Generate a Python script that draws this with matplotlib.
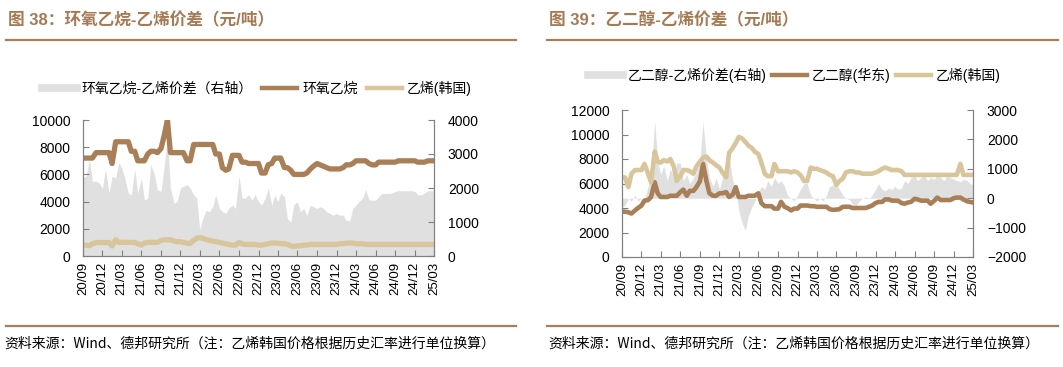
import matplotlib
matplotlib.use('Agg')
import matplotlib.pyplot as plt
from matplotlib.lines import Line2D
import matplotlib.dates as mdates
import pandas as pd

plt.rcParams['font.family'] = ['Liberation Sans', 'Noto Sans CJK SC', 'DejaVu Sans']

# semi-monthly observation dates, 2020-09 .. 2025-03
dates = pd.date_range('2020-09-01', '2025-03-01', freq='SMS')
tick_dates = pd.date_range('2020-09-01', '2025-03-01', freq='3MS')

# ---- 图38 data ----
eo_price = [
    7200, 7200, 7200, 7200, 7600, 7600, 7600, 7600, 7600, 6800,
    8400, 8400, 8400, 8400, 8400, 7700, 7700, 7000, 7000, 7000,
    7500, 7700, 7700, 7600, 7900, 8800, 10000, 7600, 7600, 7600,
    7600, 7600, 7000, 7000, 8200, 8200, 8200, 8200, 8200, 8200,
    8200, 7500, 7500, 6500, 6300, 6400, 7400, 7400, 7400, 6900,
    6900, 6800, 6800, 6800, 6800, 6100, 6100, 6700, 6800, 7200,
    7200, 7200, 6500, 6500, 6300, 6000, 6000, 6000, 6000, 6100,
    6400, 6600, 6800, 6700, 6600, 6500, 6400, 6400, 6400, 6400,
    6500, 6700, 6700, 6800, 7000, 7000, 7000, 7000, 6800, 6700,
    6700, 6900, 6900, 6900, 6900, 6900, 6900, 7000, 7000, 7000,
    7000, 7000, 7000, 6900, 6900, 6900, 7000, 7000, 7000,
]
eth_korea_a = [
    820, 800, 760, 900, 990, 990, 990, 990, 990, 740,
    1190, 1000, 1000, 1000, 1000, 1000, 1000, 900, 800, 950,
    1000, 1000, 1000, 1000, 1150, 1190, 1190, 1190, 1100, 1050,
    1050, 1000, 940, 920, 1150, 1300, 1350, 1300, 1200, 1150,
    1100, 1050, 1000, 950, 900, 850, 800, 800, 990, 900,
    850, 850, 850, 850, 800, 800, 850, 900, 950, 950,
    950, 900, 900, 850, 750, 700, 750, 750, 800, 800,
    850, 850, 850, 850, 850, 850, 850, 850, 850, 900,
    900, 950, 950, 950, 900, 900, 900, 850, 850, 850,
    850, 850, 850, 850, 850, 850, 850, 850, 850, 850,
    850, 850, 850, 850, 850, 850, 850, 850, 850,
]
eo_spread = [
    2300, 2350, 2850, 2200, 2200, 2150, 2000, 2550, 1850, 2350,
    2300, 2750, 2600, 2300, 1850, 1800, 2550, 1850, 2300, 1650,
    1700, 2700, 2400, 1950, 1900, 2600, 3450, 2000, 1550, 1600,
    2000, 2050, 2100, 2000, 1800, 1700, 780, 1100, 1350, 1300,
    1450, 1800, 1400, 1300, 1250, 1400, 1500, 1400, 2350, 1700,
    1700, 1800, 1650, 1800, 1600, 1500, 1700, 2000, 1500, 1800,
    1600, 1850, 1750, 1100, 1000, 1500, 1600, 1300, 1400, 1200,
    1500, 1450, 1400, 1450, 1400, 1300, 1250, 1200, 1250, 1200,
    1200, 1050, 1040, 1400, 1500, 1600, 1700, 1950, 1650, 1640,
    1640, 1750, 1840, 1840, 1840, 1850, 1900, 1920, 1920, 1920,
    1920, 1920, 1900, 1800, 1800, 1850, 1920, 1920, 1920,
]

# ---- 图39 data ----
meg_east = [
    3700, 3700, 3650, 3550, 3800, 4000, 4200, 4600, 4650, 4900,
    6100, 5200, 4900, 4900, 4900, 5000, 5000, 5000, 5300, 5500,
    5000, 5400, 5400, 5700, 6200, 7600, 6200, 5200, 5000, 5000,
    5200, 5200, 5300, 4900, 5100, 5700, 4900, 4900, 4900, 5000,
    5000, 5000, 5200, 4400, 4150, 4150, 4150, 3950, 3950, 4500,
    4100, 4000, 3800, 3950, 3950, 4200, 4200, 4200, 4150, 4150,
    4100, 4100, 4100, 4100, 3900, 3850, 3870, 3900, 4100, 4100,
    4100, 4000, 4000, 4000, 4000, 4000, 4100, 4200, 4400, 4500,
    4500, 4700, 4700, 4600, 4600, 4600, 4400, 4350, 4450, 4500,
    4750, 4700, 4600, 4600, 4600, 4350, 4600, 4850, 4650, 4650,
    4650, 4650, 4800, 4850, 4850, 4700, 4550, 4500, 4450,
]
eth_korea_b = [
    6500, 6500, 5700, 6800, 7100, 7100, 7100, 7600, 6800, 6100,
    8600, 7800, 7700, 7900, 7800, 8000, 7400, 6200, 6600, 7100,
    7100, 7000, 6800, 7400, 7800, 8100, 8200, 7900, 7700, 7500,
    7300, 6900, 6500, 8500, 8900, 9300, 9800, 9700, 9400, 9100,
    8900, 8600, 8400, 7700, 6800, 6600, 6600, 7600, 7000, 7000,
    7000, 7000, 6900, 7000, 6900, 6700, 6200, 6200, 7300, 7200,
    7200, 7100, 7000, 6900, 6700, 6600, 5900, 6200, 6400, 6900,
    7000, 7000, 6900, 6900, 6800, 6800, 6800, 6800, 6900, 7000,
    7200, 7300, 7200, 7100, 7100, 7100, 7000, 6700, 6700, 6700,
    6700, 6700, 6700, 6700, 6700, 6700, 6700, 6700, 6700, 6700,
    6700, 6700, 6700, 6700, 7600, 6700, 6700, 6700, 6700,
]
meg_spread = [
    -300, -250, 0, -100, 100, -100, 0, -100, 400, 900,
    2600, 1300, 800, 1100, 600, 1000, 700, 1200, 1200, 600,
    800, 500, 700, 900, 1300, 2600, 1300, 700, 400, 700,
    300, 700, 1200, 1400, 600, 300, -400, -800, -1100, -600,
    -300, -100, 200, 400, 300, 600, 400, 700, 500, 600,
    400, 100, 0, -100, 100, 300, 500, 500, 100, 0,
    -100, 0, -100, 100, 400, 450, 450, 300, 100, 0,
    -50, -200, -250, -100, 0, 50, 0, 100, 300, 500,
    300, 250, 350, 300, 400, 300, 350, 600, 500, 700,
    750, 600, 700, 800, 600, 700, 650, 800, 700, 600,
    750, 700, 650, 600, 550, 650, 600, 500, 450,
]

BROWN = '#A97F58'
TAN = '#D9C59B'
GRAY = '#E0E0E0'
TITLE_C = '#A57A55'
SPINE_C = '#808080'

W, H = 1063, 367
fig = plt.figure(figsize=(W / 100, H / 100), dpi=100)


def fx(px):
    return px / W


def fy(py):
    return 1 - py / H


def draw_panel(rect, title, legend_labels, legend_xy, spread, line1, line2,
               lylim, lyticks, rylim, ryticks, lw, colsp):
    ax = fig.add_axes(rect)
    ax2 = ax.twinx()
    ax.set_zorder(ax2.get_zorder() + 1)
    ax.patch.set_visible(False)

    ax2.fill_between(dates, 0, spread, color=GRAY, lw=0)
    ax.plot(dates, line1, color=BROWN, lw=lw)
    ax.plot(dates, line2, color=TAN, lw=lw)

    ax.set_xlim(dates[0], dates[-1])
    ax.set_ylim(*lylim)
    ax.set_yticks(lyticks)
    ax2.set_ylim(*rylim)
    ax2.set_yticks(ryticks)
    ax.set_xticks(tick_dates)
    ax.xaxis.set_major_formatter(mdates.DateFormatter('%y/%m'))

    for a in (ax, ax2):
        for s in a.spines.values():
            s.set_color(SPINE_C)
            s.set_linewidth(0.8)
        a.spines['top'].set_visible(False)
        a.tick_params(direction='in', length=4, color=SPINE_C, labelsize=10)
    ax.tick_params(axis='y', pad=9)
    ax2.tick_params(axis='y', pad=10)
    ax.tick_params(axis='x', labelsize=9.5, pad=4, labelrotation=90)

    handles = [Line2D([], [], color=GRAY, lw=5.5),
               Line2D([], [], color=BROWN, lw=3.2),
               Line2D([], [], color=TAN, lw=3.2)]
    fig.legend(handles, legend_labels, loc='center left',
               bbox_to_anchor=legend_xy, ncol=3, frameon=False,
               fontsize=10, handlelength=2.5, handletextpad=0.35,
               columnspacing=colsp, borderpad=0, borderaxespad=0)

    fig.text(title[1], fy(20), title[0], fontsize=12, fontweight='bold',
             color=TITLE_C, va='center', ha='left',
             family=['Liberation Sans', 'Noto Sans CJK SC'])
    return ax


draw_panel([fx(83), fy(256), fx(351), (256 - 120) / H],
           ('图 38：环氧乙烷-乙烯价差（元/吨）', fx(8)),
           ['环氧乙烷-乙烯价差（右轴）', '环氧乙烷', '乙烯(韩国)'],
           (fx(42), fy(88)), eo_spread, eo_price, eth_korea_a,
           (0, 10000), range(0, 10001, 2000), (0, 4000), range(0, 4001, 1000),
           3.8, 0.7)

draw_panel([fx(622), fy(257), fx(351), (257 - 110) / H],
           ('图 39：乙二醇-乙烯价差（元/吨）', fx(549)),
           ['乙二醇-乙烯价差(右轴)', '乙二醇(华东)', '乙烯(韩国)'],
           (fx(588), fy(75)), meg_spread, meg_east, eth_korea_b,
           (0, 12000), range(0, 12001, 2000), (-2000, 3000), range(-2000, 3001, 1000),
           3.3, 0.4)

# header / footer rules
for x_a, x_b in ((6, 516), (547, 1058)):
    for y in (40, 326):
        fig.add_artist(Line2D([fx(x_a), fx(x_b)], [fy(y), fy(y)],
                              color=BROWN, lw=1.6, transform=fig.transFigure))

source = '资料来源：Wind、德邦研究所（注：乙烯韩国价格根据历史汇率进行单位换算）'
fig.text(fx(4), fy(344), source, fontsize=10, va='center', ha='left',
         family=['Noto Sans CJK SC', 'Liberation Sans'])
fig.text(fx(548), fy(344), source, fontsize=10, va='center', ha='left',
         family=['Noto Sans CJK SC', 'Liberation Sans'])

fig.savefig('out.png', dpi=100)
